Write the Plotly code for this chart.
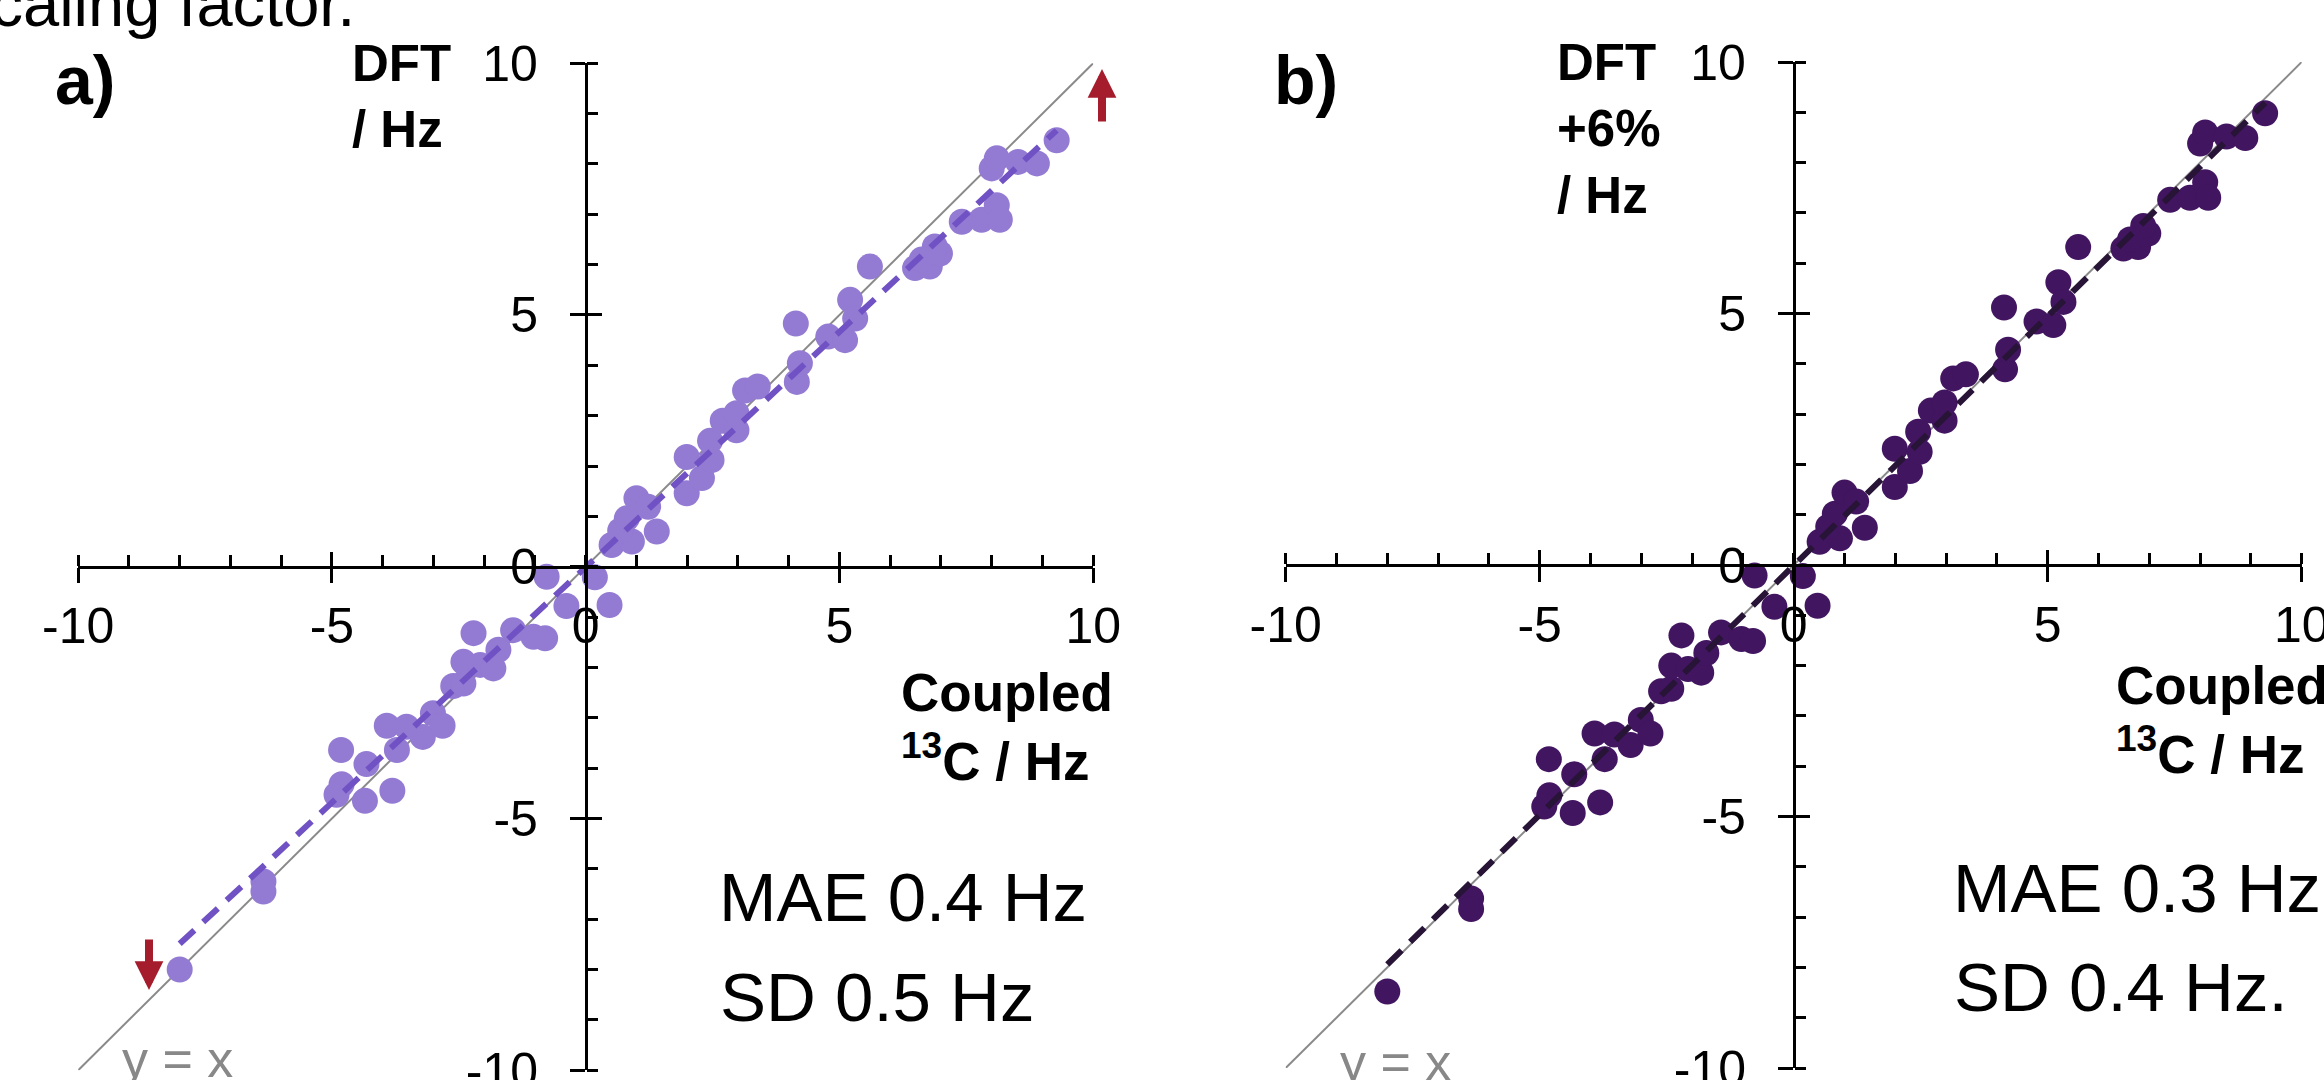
import plotly.graph_objects as go

# ---------------- data ----------------
coupled = [-8.00, -6.35, -6.35, -4.82, -4.81, -4.91, -4.35, -3.81, -4.32, -3.92,
           -3.72, -3.53, -3.21, -3.01, -2.82, -2.61, -2.41, -2.41, -2.08, -1.82,
           -1.72, -2.21, -1.43, -1.03, -0.80, -0.77, -0.38, 0.18, 0.47, 0.51,
           0.91, 0.68, 0.81, 1.00, 1.23, 1.40, 1.99, 1.99, 2.29, 2.48,
           2.45, 2.70, 2.97, 2.97, 3.14, 3.39, 4.16, 4.22, 4.14, 4.78,
           5.11, 5.21, 5.31, 5.60, 6.49, 6.78, 6.98, 6.88, 6.62, 7.41,
           7.80, 8.10, 8.16, 8.00, 8.10, 8.52, 8.89, 9.28]
dft = [-8.00, -6.25, -6.45, -3.64, -4.32, -4.53, -4.65, -4.45, -3.92, -3.16,
       -3.64, -3.18, -3.38, -2.91, -3.16, -2.37, -2.32, -1.89, -1.95, -2.02,
       -1.65, -1.32, -1.26, -1.39, -1.42, -0.20, -0.78, -0.21, -0.76, 0.43,
       0.50, 0.72, 0.96, 1.36, 1.19, 0.70, 2.18, 1.46, 1.76, 2.12,
       2.50, 2.90, 2.71, 3.05, 3.50, 3.58, 3.67, 4.04, 4.83, 4.57,
       4.50, 5.30, 4.93, 5.96, 5.93, 5.96, 6.22, 6.36, 6.10, 6.85,
       6.89, 7.18, 6.89, 7.91, 8.11, 8.04, 8.01, 8.47]
dft_plus6 = [-8.48, -6.63, -6.84, -3.86, -4.58, -4.80, -4.93, -4.72, -4.16, -3.35,
             -3.86, -3.37, -3.58, -3.08, -3.35, -2.51, -2.46, -2.00, -2.07, -2.14,
             -1.75, -1.40, -1.34, -1.47, -1.51, -0.21, -0.83, -0.22, -0.81, 0.46,
             0.53, 0.76, 1.02, 1.44, 1.26, 0.74, 2.31, 1.55, 1.87, 2.25,
             2.65, 3.07, 2.87, 3.23, 3.71, 3.79, 3.89, 4.28, 5.12, 4.84,
             4.77, 5.62, 5.23, 6.32, 6.29, 6.32, 6.59, 6.74, 6.47, 7.26,
             7.30, 7.61, 7.30, 8.38, 8.60, 8.52, 8.49, 8.98]
fit_a = (0.935, -0.01)   # slope, intercept of dashed regression line (a)
fit_b = (0.991, -0.01)   # slope, intercept of dashed regression line (b)
identity = [-10, 10]
tick_vals = [-10, -5, 0, 5, 10]
tick_text = ["-10", "-5", "0", "5", "10"]
stats_a = ["MAE 0.4 Hz", "SD 0.5 Hz"]
stats_b = ["MAE 0.3 Hz", "SD 0.4 Hz."]

# ---------------- styling ----------------
W, H = 2324, 1080
FONT = "Arial, 'Liberation Sans', sans-serif"
COL_A, LINE_A = "#937AD2", "#7052C4"
COL_B, LINE_B = "#421560", "#281437"
RED = "#A51D2C"


def px(X):
    return X / W


def py(Y):
    return 1 - Y / H


fig = go.Figure()

panels = [
    dict(xa="x", ya="y", xo="x3", yo="y3", x0=78.2, x1=1093.2, ytop=63.2, ybot=1070.2,
         ox=585.7, oy=566.7, ys=dft, fit=fit_a, col=COL_A, lcol=LINE_A),
    dict(xa="x2", ya="y2", xo="x4", yo="y4", x0=1285.7, x1=2301.7, ytop=62.0, ybot=1068.0,
         ox=1793.7, oy=565.0, ys=dft_plus6, fit=fit_b, col=COL_B, lcol=LINE_B),
]

layout_axes = {}
for p in panels:
    xdom = [px(p["x0"]), px(p["x1"])]
    ydom = [py(p["ybot"]), py(p["ytop"])]
    xpos = py(p["oy"])
    ypos = px(p["ox"])
    # y = x reference line
    fig.add_trace(go.Scatter(x=identity, y=identity, mode="lines",
                             line=dict(color="#8a8a8a", width=2),
                             xaxis=p["xa"], yaxis=p["ya"], showlegend=False, hoverinfo="skip"))
    # data points
    fig.add_trace(go.Scatter(x=coupled, y=p["ys"], mode="markers",
                             marker=dict(size=26, color=p["col"], line=dict(width=0)),
                             xaxis=p["xa"], yaxis=p["ya"], showlegend=False))
    # regression line
    xl = [min(coupled), max(coupled)]
    yl = [p["fit"][0] * v + p["fit"][1] for v in xl]
    fig.add_trace(go.Scatter(x=xl, y=yl, mode="lines",
                             line=dict(color=p["lcol"], width=6, dash="20px,12px"),
                             xaxis=p["xa"], yaxis=p["ya"], showlegend=False, hoverinfo="skip"))
    # empty trace for overlay axes (inner half of crossing major ticks)
    fig.add_trace(go.Scatter(x=[], y=[], xaxis=p["xo"], yaxis=p["yo"], showlegend=False))

    common = dict(range=[-10, 10], showgrid=False, zeroline=False, automargin=False,
                  fixedrange=True)
    minor = dict(ticks="inside", ticklen=11, tickwidth=2.5, tickcolor="black",
                 tickmode="linear", tick0=0, dtick=1, showgrid=False)
    key_x = "xaxis" if p["xa"] == "x" else "xaxis" + p["xa"][1:]
    key_y = "yaxis" if p["ya"] == "y" else "yaxis" + p["ya"][1:]
    layout_axes[key_x] = dict(common, domain=xdom, anchor="free", position=xpos,
                              showline=True, linecolor="black", linewidth=2.5,
                              ticks="outside", ticklen=15, tickwidth=2.5, tickcolor="black",
                              tickmode="array", tickvals=tick_vals, ticktext=tick_text,
                              tickfont=dict(family=FONT, size=50, color="black"),
                              ticklabelstandoff=0, ticklabeloverflow="allow", minor=minor)
    layout_axes[key_y] = dict(common, domain=ydom, anchor="free", position=ypos,
                              showline=True, linecolor="black", linewidth=2.5,
                              ticks="outside", ticklen=15, tickwidth=2.5, tickcolor="black",
                              tickmode="array", tickvals=tick_vals, ticktext=tick_text,
                              tickfont=dict(family=FONT, size=50, color="black"),
                              ticklabelstandoff=22, ticklabeloverflow="allow", minor=minor)
    layout_axes["xaxis" + p["xo"][1:]] = dict(common, domain=xdom, anchor="free", position=xpos,
                                             overlaying=p["xa"], showline=False,
                                             ticks="inside", ticklen=15, tickwidth=2.5,
                                             tickcolor="black", tickmode="array",
                                             tickvals=[-10, -5, 5, 10], showticklabels=False)
    layout_axes["yaxis" + p["yo"][1:]] = dict(common, domain=ydom, anchor="free", position=ypos,
                                             overlaying=p["ya"], showline=False,
                                             ticks="inside", ticklen=15, tickwidth=2.5,
                                             tickcolor="black", tickmode="array",
                                             tickvals=[-10, -5, 5, 10], showticklabels=False)

ann = []


def text(s, X, Y, size, bold=False, xanchor="left", yanchor="top", color="black", align="left"):
    ann.append(dict(text=f"<b>{s}</b>" if bold else s, x=px(X), y=py(Y), xref="paper",
                    yref="paper", xanchor=xanchor, yanchor=yanchor, align=align,
                    showarrow=False, font=dict(family=FONT, size=size, color=color)))


# cut-off sentence at the very top
text("scaling factor.", 357, -35, 65, xanchor="right")
# panel a
text("a)", 53, 40, 68, bold=True)
text("DFT<br>/ Hz", 350, 33, 51, bold=True)
text("Coupled<br><sup>13</sup>C / Hz", 899, 661, 53, bold=True)
text(stats_a[0], 717, 897, 69, yanchor="middle")
text(stats_a[1], 718, 997, 69, yanchor="middle")
text("y = x", 120, 1028, 52, color="#888888")
# panel b
text("b)", 1272, 40, 68, bold=True)
text("DFT<br>+6%<br>/ Hz", 1555, 32, 51, bold=True)
text("Coupled<br><sup>13</sup>C / Hz", 2114, 654, 53, bold=True)
text(stats_b[0], 1951, 888, 69, yanchor="middle")
text(stats_b[1], 1952, 987, 69, yanchor="middle")
text("y = x", 1338, 1031, 52, color="#888888")

# red arrows (panel a)
ann.append(dict(text="", x=px(1102), y=py(69), xref="paper", yref="paper", ax=0, ay=54,
                showarrow=True, arrowhead=2, arrowsize=0.72, arrowwidth=8, arrowcolor=RED))
ann.append(dict(text="", x=px(149), y=py(990), xref="paper", yref="paper", ax=0, ay=-52,
                showarrow=True, arrowhead=2, arrowsize=0.72, arrowwidth=8, arrowcolor=RED))

fig.update_layout(
    template="none",
    width=W, height=H,
    margin=dict(l=0, r=0, t=0, b=0, pad=0),
    paper_bgcolor="white", plot_bgcolor="rgba(0,0,0,0)",
    showlegend=False,
    annotations=ann,
    **layout_axes,
)

fig.write_html("out.html", config={"displayModeBar": False},
               post_script="document.body.style.margin='0';document.body.style.overflow='hidden';")
